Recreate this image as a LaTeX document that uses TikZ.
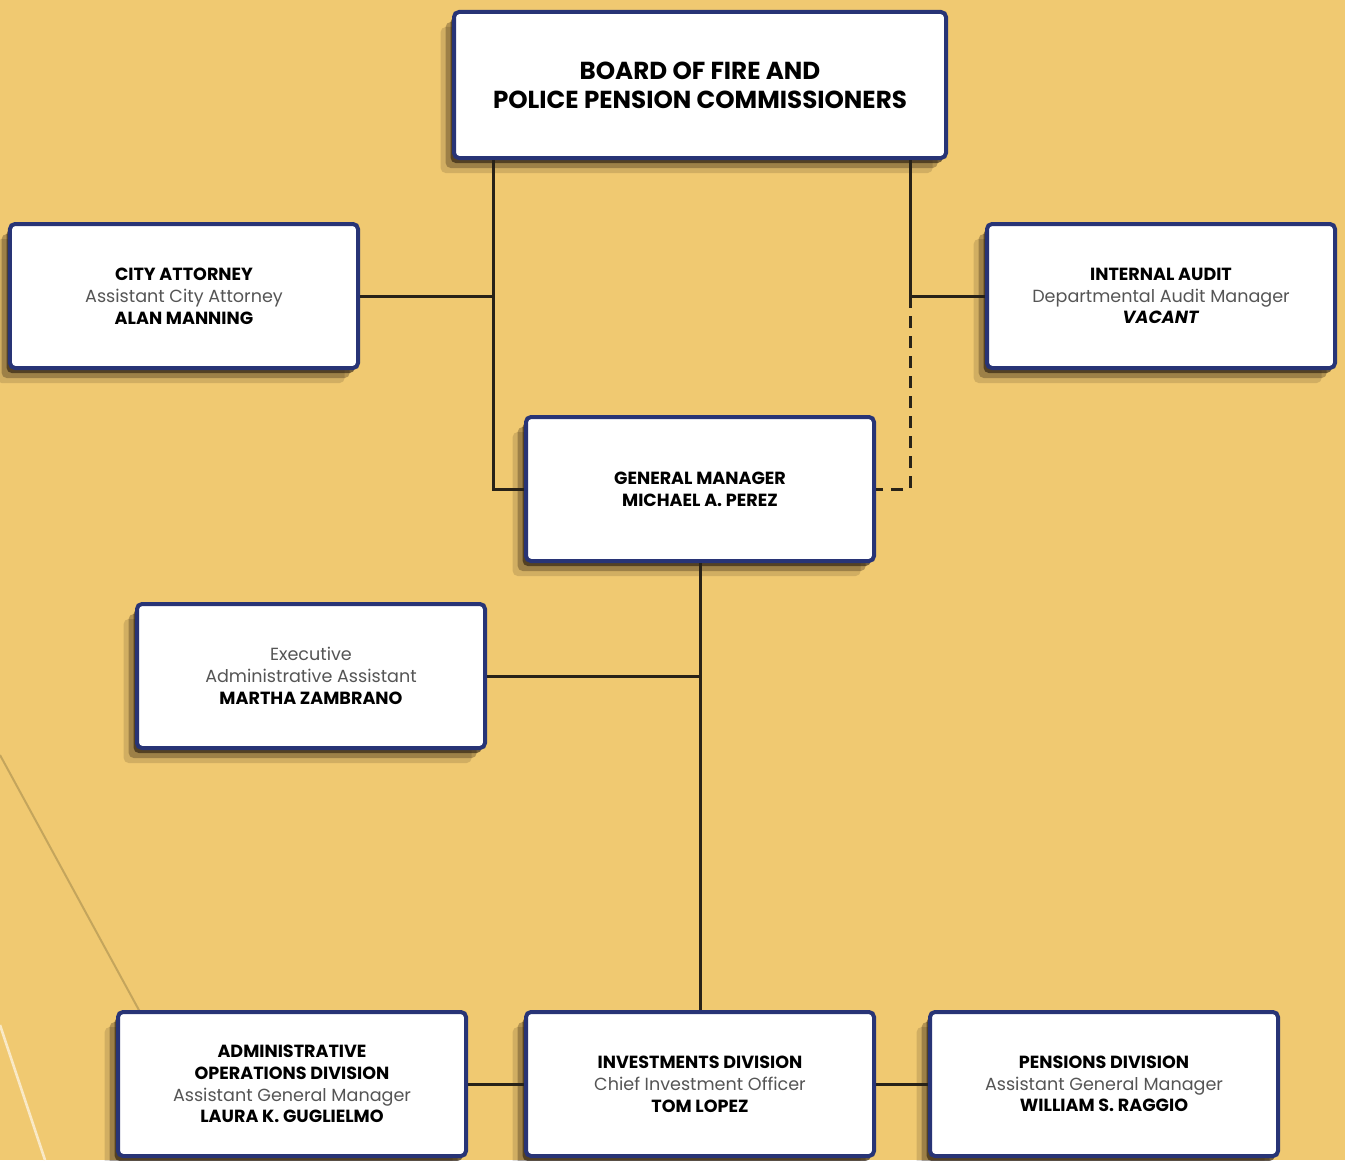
\documentclass[tikz,border=0pt]{standalone}
\usepackage{fontspec}
\setmainfont{Poppins}
\usetikzlibrary{shadows}

\definecolor{gold}{RGB}{240,201,113}
\definecolor{boxblue}{RGB}{40,52,118}
\definecolor{linecol}{RGB}{40,34,24}
\definecolor{subgray}{RGB}{85,85,85}

\tikzset{
  unit/.style={draw=boxblue, line width=1.2mm, fill=white, rounded corners=1.5mm,
    minimum width=104.4mm, minimum height=43.2mm, align=center,
    font=\fontsize{15}{18.6}\selectfont,
    drop shadow={shadow xshift=-1mm, shadow yshift=-1.5mm, opacity=0.6, fill=black!80!brown},
    drop shadow={shadow xshift=-2.5mm, shadow yshift=-3mm, opacity=0.3, fill=black!80!brown},
    drop shadow={shadow xshift=-4mm, shadow yshift=-4.5mm, opacity=0.15, fill=black!80!brown}},
  link/.style={draw=linecol, line width=0.9mm}
}

\begin{document}
\begin{tikzpicture}[x=0.3mm,y=-0.3mm]
    \fill[gold] (0,0) rectangle (1345,1160);
    \useasboundingbox (0,0) rectangle (1345,1160);
    % background strokes
    \draw[gold!70!black, line width=0.6mm, opacity=0.6] (0,755) -- (140,1012);
    \draw[white!60!gold, line width=0.8mm] (0,1025) -- (45,1160);

    \node[unit, minimum width=147.6mm, minimum height=43.8mm,
          font=\fontsize{21}{25}\selectfont] (board) at (700,85)
          {\textbf{BOARD OF FIRE AND}\\\textbf{POLICE PENSION COMMISSIONERS}};
    \node[unit] (attorney) at (184,296)
          {\textbf{CITY ATTORNEY}\\{\color{subgray}Assistant City Attorney}\\\textbf{ALAN MANNING}};
    \node[unit] (audit) at (1161,296)
          {\textbf{INTERNAL AUDIT}\\{\color{subgray}Departmental Audit Manager}\\\textbf{\textit{VACANT}}};
    \node[unit] (gm) at (700,489)
          {\textbf{GENERAL MANAGER}\\\textbf{MICHAEL A. PEREZ}};
    \node[unit] (exec) at (311,676)
          {{\color{subgray}Executive}\\{\color{subgray}Administrative Assistant}\\\textbf{MARTHA ZAMBRANO}};
    \node[unit] (admin) at (292,1084)
          {\textbf{ADMINISTRATIVE}\\\textbf{OPERATIONS DIVISION}\\{\color{subgray}Assistant General Manager}\\\textbf{LAURA K. GUGLIELMO}};
    \node[unit] (invest) at (700,1084)
          {\textbf{INVESTMENTS DIVISION}\\{\color{subgray}Chief Investment Officer}\\\textbf{TOM LOPEZ}};
    \node[unit] (pensions) at (1104,1084)
          {\textbf{PENSIONS DIVISION}\\{\color{subgray}Assistant General Manager}\\\textbf{WILLIAM S. RAGGIO}};

    \coordinate (jl) at (493,296);
    \coordinate (jr) at (910,296);

    \draw[link] (board.south -| jl) -- (jl |- gm.west) -- (gm.west);
    \draw[link] (attorney.east) -- (jl);
    \draw[link] (board.south -| jr) -- (jr) -- (audit.west);
    \draw[link, dash pattern=on 3.6mm off 2.4mm] (jr) -- (jr |- gm.east) -- (gm.east);
    \draw[link] (gm.south) -- (invest.north);
    \draw[link] (exec.east) -- (exec.east -| gm.south);
    \draw[link] (admin.east) -- (invest.west);
    \draw[link] (invest.east) -- (pensions.west);
\end{tikzpicture}
\end{document}
